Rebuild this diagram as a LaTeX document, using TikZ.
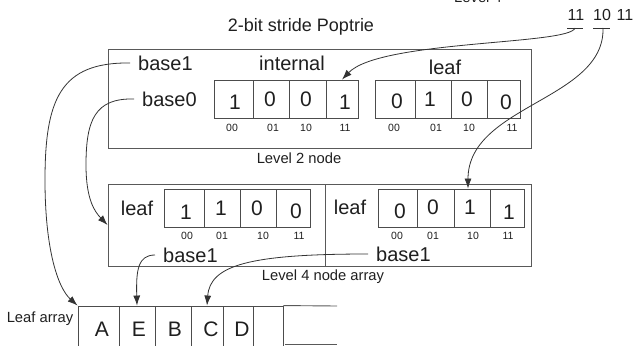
\documentclass[tikz,border=0pt]{standalone}
\usepackage{fontspec}
\setmainfont{Liberation Sans}
\usetikzlibrary{arrows.meta}
\begin{document}
\begin{tikzpicture}[x=1pt,y=-1pt,
  txt/.style={inner sep=0pt, text=black!88},
  big/.style={txt, font=\fontsize{21}{24}\selectfont},
  lbl/.style={txt, font=\fontsize{20}{23}\selectfont},
  basel/.style={lbl, anchor=west, inner xsep=8pt},
  ttl/.style={txt, font=\fontsize{18}{21}\selectfont},
  bits/.style={txt, font=\fontsize{16}{19}\selectfont},
  capt/.style={txt, font=\fontsize{14.75}{17}\selectfont},
  tiny/.style={txt, font=\fontsize{10.5}{12}\selectfont},
  cell/.style={draw=black!70, line width=0.9pt, inner sep=0pt, minimum height=38pt},
  acell/.style={draw=black!70, line width=0.9pt, inner sep=0pt, minimum height=54pt},
  frame/.style={draw=black!65, line width=0.9pt, inner sep=0pt},
  link/.style={draw=black!80, line width=0.8pt},
  arr/.style={link, -{Latex[length=10pt,width=7pt]}}
]
\useasboundingbox (0,0) rectangle (636,345);

% title and top labels
\node[ttl, anchor=base] (title) at (301,31) {2-bit stride Poptrie};
\node[capt, anchor=base] (lev4top) at (478,3) {Level 4};
\node[bits] (k1) at (576,15) {11};
\node[bits] (k2) at (602,15) {10};
\node[bits] (k3) at (625,15) {11};
\coordinate (u1) at (575,28);
\coordinate (u2) at (603,28);
\draw[link] (567,28) -- (583,28);
\draw[link] (593,28) -- (610,28);

% Level 2 node
\node[frame, minimum width=423pt, minimum height=99pt] (l2box) at (319.5,98.5) {};
\node[basel] (b1) at (130,63) {base1};
\node[basel] (b0) at (134,99) {base0};
\node[lbl] (intl) at (292,63) {internal};
\node[lbl] (leafa) at (445,67) {leaf};
\node[capt, anchor=base] (l2cap) at (299,163) {Level 2 node};

\node[cell, minimum width=39pt] (i1) at (233.5,99) {};
\node[cell, minimum width=36pt] (i2) at (271,99) {};
\node[cell, minimum width=37pt] (i3) at (307.5,99) {};
\node[cell, minimum width=32pt] (i4) at (342,99) {};
\node[big] at (235,102) {1};
\node[big] at (270,99) {0};
\node[big] at (306,99) {0};
\node[big] at (345,102) {1};
\node[tiny] at (232,128) {00};
\node[tiny] at (273,128) {01};
\node[tiny] at (306,128) {10};
\node[tiny] at (345,128) {11};

\node[cell, minimum width=40pt] (f1) at (395,99) {};
\node[cell, minimum width=36pt] (f2) at (433,99) {};
\node[cell, minimum width=36pt] (f3) at (469,99) {};
\node[cell, minimum width=33pt] (f4) at (503.5,99) {};
\node[big] at (397,101) {0};
\node[big] at (430,99) {1};
\node[big] at (467,99) {0};
\node[big] at (506,102) {0};
\node[tiny] at (394,128) {00};
\node[tiny] at (436,128) {01};
\node[tiny] at (469,128) {10};
\node[tiny] at (512,128) {11};

% Level 4 node array
\node[frame, minimum width=423pt, minimum height=82pt] (l4box) at (319.5,225) {};
\coordinate (dtop) at (325,184);
\coordinate (dbot) at (325,266);
\draw[frame] (dtop) -- (dbot);
\node[capt, anchor=base] (l4cap) at (323,280) {Level 4 node array};

\node[lbl] (leafb) at (137,208) {leaf};
\node[cell, minimum width=40pt] (p1) at (184,208) {};
\node[cell, minimum width=36pt] (p2) at (222,208) {};
\node[cell, minimum width=36pt] (p3) at (258,208) {};
\node[cell, minimum width=34pt] (p4) at (293,208) {};
\node[big] at (186,212) {1};
\node[big] at (221,208) {1};
\node[big] at (257,208) {0};
\node[big] at (296,211) {0};
\node[tiny] at (187,236) {00};
\node[tiny] at (222,236) {01};
\node[tiny] at (263,236) {10};
\node[tiny] at (299,236) {11};
\node[basel] (lb1) at (155,255) {base1};

\node[lbl] (leafc) at (350,207) {leaf};
\node[cell, minimum width=39pt] (q1) at (397.5,208) {};
\node[cell, minimum width=37pt] (q2) at (435.5,208) {};
\node[cell, minimum width=36pt] (q3) at (472,208) {};
\node[cell, minimum width=34pt] (q4) at (507,208) {};
\node[big] at (400,211) {0};
\node[big] at (433,207) {0};
\node[big] at (470,207) {1};
\node[big] at (509,212) {1};
\node[tiny] at (397,236) {00};
\node[tiny] at (433,236) {01};
\node[tiny] at (473,236) {10};
\node[tiny] at (508,236) {11};
\node[basel] (rb1) at (368,254) {base1};

% Leaf array
\node[capt, anchor=base] (lacap) at (40,322) {Leaf array};
\node[acell, minimum width=41pt] (cA) at (98.5,333) {};
\node[acell, minimum width=36pt] (cE) at (137,333) {};
\node[acell, minimum width=36pt] (cB) at (173,333) {};
\node[acell, minimum width=32pt] (cC) at (207,333) {};
\node[acell, minimum width=30pt] (cD) at (238,333) {};
\node[acell, minimum width=30pt] (cF) at (268,333) {};
\node[big] at (102,329) {A};
\node[big] at (139,329) {E};
\node[big] at (175,329) {B};
\node[big] at (211,329) {C};
\node[big] at (242,329) {D};
\coordinate (aend) at (337,306);
\coordinate (bstart) at (285,344);
\coordinate (bend) at (337,344);
\draw[frame] (cF.north east) -- (aend);
\draw[frame] (bstart) -- (bend);

% connectors
\draw[arr] (u1) .. controls (570,45) and (380,40) .. (i4.north);
\draw[arr] (u2) .. controls (605,100) and (468,105) .. ([xshift=-4pt]q3.north);
\draw[arr] (b1.west) .. controls (60,62) and (45,100) .. (45,180)
                      .. controls (45,250) and (58,288) .. (cA.north west);
\draw[arr] (b0.west) .. controls (95,98) and (86,120) .. (86,165)
                      .. controls (86,200) and (95,212) .. (l4box.west);
\draw[arr] (lb1.west) .. controls (138,255) and (136,270) .. (cE.north);
\draw[arr] (rb1.west) .. controls (250,254) and (210,265) .. (cC.north);
\end{tikzpicture}
\end{document}
